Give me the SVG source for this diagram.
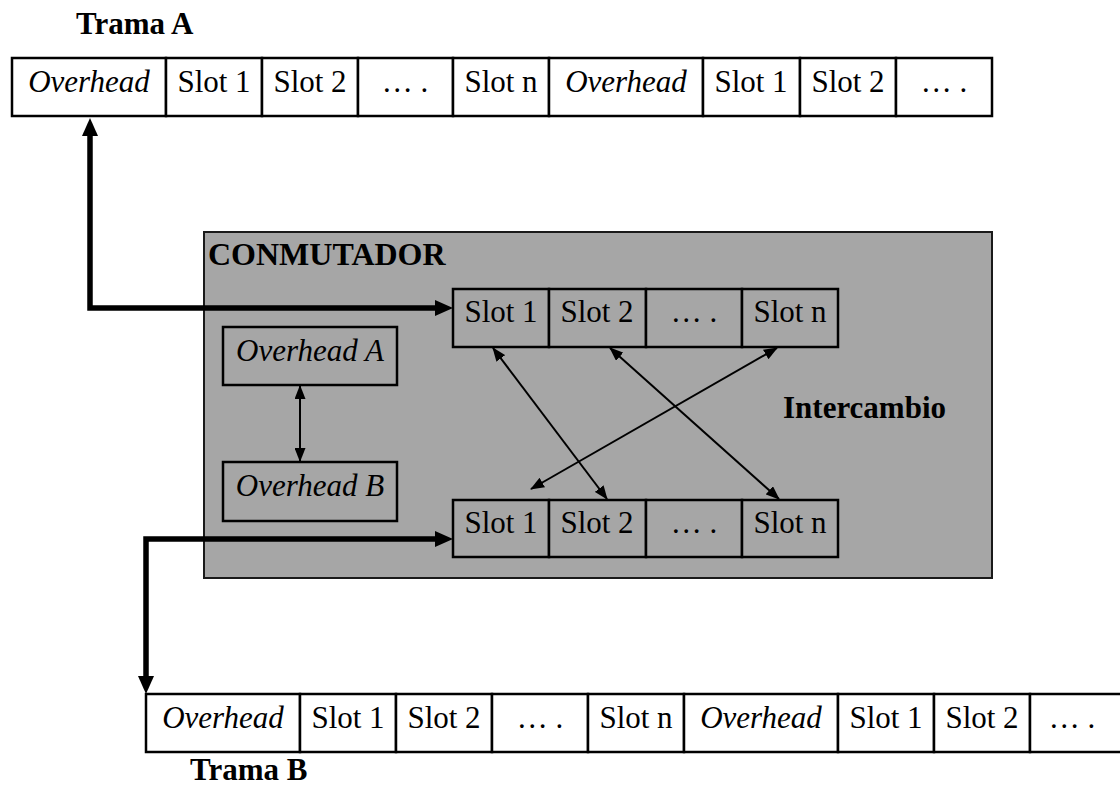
<svg xmlns="http://www.w3.org/2000/svg" width="1120" height="785" viewBox="0 0 1120 785">
<defs>
<style>
text{font-family:"Liberation Serif","Times New Roman",serif;font-size:31px;fill:#000}
.c{text-anchor:middle}
.i{font-style:italic}
.b{font-weight:bold}
.cell{fill:#fff;stroke:#000;stroke-width:2.5}
.icell{fill:#a6a6a6;stroke:#000;stroke-width:2.5}
.thick{fill:none;stroke:#000;stroke-width:5.5;stroke-linejoin:miter}
.thin{fill:none;stroke:#000;stroke-width:2}
</style>
<marker id="ah" markerUnits="userSpaceOnUse" markerWidth="18" markerHeight="16" refX="10" refY="8" orient="auto-start-reverse" viewBox="0 0 18 16">
<path d="M0,0 L18,8 L0,16 z" fill="#000"/>
</marker>
<marker id="as" markerUnits="userSpaceOnUse" markerWidth="14" markerHeight="11" refX="13" refY="5.5" orient="auto-start-reverse" viewBox="0 0 14 11">
<path d="M0,0 L14,5.5 L0,11 z" fill="#000"/>
</marker>
</defs>
<rect width="1120" height="785" fill="#fff"/>

<g id="trama-a">
<text class="b" x="76" y="34">Trama A</text>
<rect class="cell" x="12" y="58" width="154" height="58"/>
<rect class="cell" x="166" y="58" width="96" height="58"/>
<rect class="cell" x="262" y="58" width="96" height="58"/>
<rect class="cell" x="358" y="58" width="95" height="58"/>
<rect class="cell" x="453" y="58" width="96" height="58"/>
<rect class="cell" x="549" y="58" width="154" height="58"/>
<rect class="cell" x="703" y="58" width="97" height="58"/>
<rect class="cell" x="800" y="58" width="96" height="58"/>
<rect class="cell" x="896" y="58" width="96" height="58"/>
<text class="c i" x="89" y="92">Overhead</text>
<text class="c" x="214" y="92">Slot 1</text>
<text class="c" x="310" y="92">Slot 2</text>
<text class="c" x="405" y="92">… .</text>
<text class="c" x="501" y="92">Slot n</text>
<text class="c i" x="626" y="92">Overhead</text>
<text class="c" x="751" y="92">Slot 1</text>
<text class="c" x="848" y="92">Slot 2</text>
<text class="c" x="944" y="92">… .</text>
</g>

<g id="conmutador">
<rect x="204" y="232" width="788" height="346" fill="#a6a6a6" stroke="#1a1a1a" stroke-width="2"/>
<text class="b" x="208" y="265" style="font-size:32px">CONMUTADOR</text>
<text class="b" x="783" y="418">Intercambio</text>
</g>

<g id="overhead-a">
<rect class="icell" x="223" y="327" width="174" height="58"/>
<text class="c i" x="310" y="361">Overhead A</text>
</g>
<g id="overhead-b">
<rect class="icell" x="223" y="462" width="174" height="59"/>
<text class="c i" x="310" y="496">Overhead B</text>
</g>

<g id="slots-in">
<rect class="icell" x="453" y="289" width="96" height="58"/>
<rect class="icell" x="549" y="289" width="97" height="58"/>
<rect class="icell" x="646" y="289" width="96" height="58"/>
<rect class="icell" x="742" y="289" width="96" height="58"/>
<text class="c" x="501" y="322">Slot 1</text>
<text class="c" x="597" y="322">Slot 2</text>
<text class="c" x="694" y="322">… .</text>
<text class="c" x="790" y="322">Slot n</text>
</g>

<g id="slots-out">
<rect class="icell" x="453" y="500" width="96" height="57"/>
<rect class="icell" x="549" y="500" width="97" height="57"/>
<rect class="icell" x="646" y="500" width="96" height="57"/>
<rect class="icell" x="742" y="500" width="96" height="57"/>
<text class="c" x="501" y="533">Slot 1</text>
<text class="c" x="597" y="533">Slot 2</text>
<text class="c" x="694" y="533">… .</text>
<text class="c" x="790" y="533">Slot n</text>
</g>

<g id="trama-b">
<rect class="cell" x="146" y="694" width="154" height="58"/>
<rect class="cell" x="300" y="694" width="96" height="58"/>
<rect class="cell" x="396" y="694" width="96" height="58"/>
<rect class="cell" x="492" y="694" width="96" height="58"/>
<rect class="cell" x="588" y="694" width="96" height="58"/>
<rect class="cell" x="684" y="694" width="154" height="58"/>
<rect class="cell" x="838" y="694" width="96" height="58"/>
<rect class="cell" x="934" y="694" width="96" height="58"/>
<rect class="cell" x="1030" y="694" width="100" height="58"/>
<text class="c i" x="223" y="728">Overhead</text>
<text class="c" x="348" y="728">Slot 1</text>
<text class="c" x="444" y="728">Slot 2</text>
<text class="c" x="540" y="728">… .</text>
<text class="c" x="636" y="728">Slot n</text>
<text class="c i" x="761" y="728">Overhead</text>
<text class="c" x="886" y="728">Slot 1</text>
<text class="c" x="982" y="728">Slot 2</text>
<text class="c" x="1072" y="728">… .</text>
<text class="b" x="190" y="780">Trama B</text>
</g>

<g id="connectors">
<path class="thick" d="M90,126 V308 H445" marker-start="url(#ah)" marker-end="url(#ah)"/>
<path class="thick" d="M445,539 H146 V686" marker-start="url(#ah)" marker-end="url(#ah)"/>
<line class="thin" x1="300" y1="386" x2="300" y2="461" marker-start="url(#as)" marker-end="url(#as)"/>
<line class="thin" x1="493" y1="348" x2="607" y2="499" marker-start="url(#as)" marker-end="url(#as)"/>
<line class="thin" x1="610" y1="348" x2="779" y2="499" marker-start="url(#as)" marker-end="url(#as)"/>
<line class="thin" x1="777" y1="348" x2="531" y2="489" marker-start="url(#as)" marker-end="url(#as)"/>
</g>
</svg>
